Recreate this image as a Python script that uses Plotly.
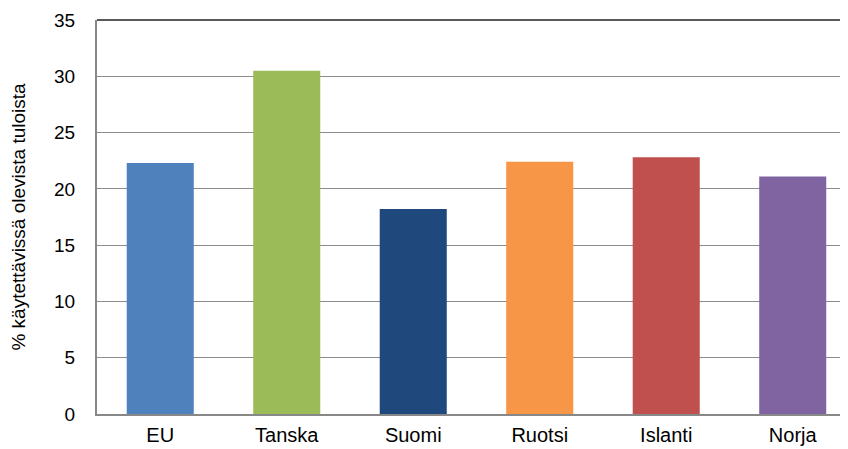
import plotly.graph_objects as go

categories = ["EU", "Tanska", "Suomi", "Ruotsi", "Islanti", "Norja"]
values = [22.3, 30.5, 18.2, 22.4, 22.8, 21.1]
colors = ["#4F81BD", "#9BBB59", "#1F497D", "#F79646", "#C0504D", "#8064A2"]
y_ticks = [0, 5, 10, 15, 20, 25, 30, 35]
y_title = "% käytettävissä olevista tuloista"

fig = go.Figure(go.Bar(x=categories, y=values, marker_color=colors, marker_line_width=0))

fam = "Liberation Sans, Arial, sans-serif"
font = dict(family=fam, size=19, color="#000000")
# page body has an 8px margin, so the figure is 840x441 placed at (8,8)
fig.update_layout(
    width=840, height=441,
    margin=dict(l=89, r=0, t=12, b=35),
    paper_bgcolor="white", plot_bgcolor="white",
    bargap=0.47,
    font=font,
    showlegend=False,
)
fig.update_xaxes(
    type="category", range=[-0.5, 5.437],
    showline=True, linecolor="#888888", linewidth=2,
    ticks="outside", ticklen=2, tickcolor="rgba(0,0,0,0)",
    showgrid=False, tickfont=dict(family=fam, size=20, color="#000000"),
)
fig.update_yaxes(
    range=[0, 35], tickvals=y_ticks,
    showline=True, linecolor="#888888", linewidth=2,
    gridcolor="#8c8c8c", gridwidth=1,
    zeroline=False,
    ticks="outside", ticklen=16, tickcolor="rgba(0,0,0,0)",
    title=dict(text=y_title, font=dict(family=fam, size=19, color="#000000"), standoff=23),
    tickfont=font,
)
fig.add_shape(type="line", xref="paper", yref="paper", x0=0, x1=1, y0=1, y1=1,
              line=dict(color="#222222", width=1.5))
fig.write_html("out.html")
